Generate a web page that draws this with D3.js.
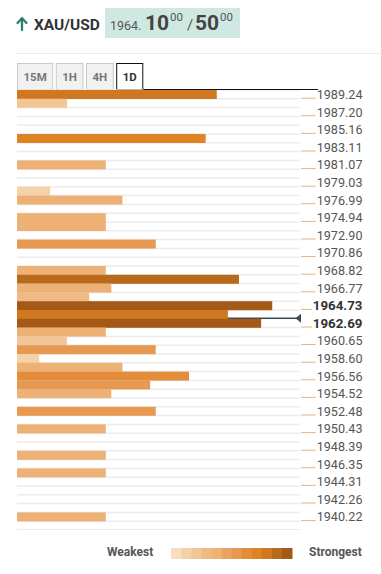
<!DOCTYPE html>
<html>
<head>
<meta charset="utf-8">
<script src="https://cdn.jsdelivr.net/npm/d3@7/dist/d3.min.js"></script>
<style>
  html, body { margin: 0; padding: 0; background: #fff; }
  svg { display: block; font-family: Roboto, "Noto Sans", sans-serif; }
</style>
</head>
<body>
<svg id="chart" width="381" height="574"></svg>
<script>
// ---------------- DATA ----------------
const symbol = "XAU/USD";
const priceBig = "1964.";
const bidMain = "10", bidSup = "00";
const askMain = "50", askSup = "00";
const tabs = ["15M", "1H", "4H", "1D"];
const activeTab = "1D";

const tickLabels = ["1989.24","1987.20","1985.16","1983.11","1981.07","1979.03","1976.99","1974.94",
  "1972.90","1970.86","1968.82","1966.77","1964.73","1962.69","1960.65","1958.60","1956.56",
  "1954.52","1952.48","1950.43","1948.39","1946.35","1944.31","1942.26","1940.22"];
const keyLevels = ["1964.73", "1962.69"];
const currentPrice = 1963.26;

const rowCount = 49;
const barRows     = [0, 1, 5, 8, 11, 12, 14, 15, 17, 20, 21, 22, 23, 24, 25, 26, 27, 28, 29, 30, 31, 32, 33, 34, 36, 38, 41, 43, 48];
const barStrength = [18, 4.5, 17, 8, 3, 9.5, 8, 8, 12.5, 8, 20, 8.5, 6.5, 23, 19, 22, 8, 4.5, 12.5, 2, 9.5, 15.5, 12, 8.5, 12.5, 8, 8, 8, 8];

const legendColors = ["#f8ddc0","#f5d1aa","#f2c597","#efba84","#edb075","#eaa462",
  "#e79952","#e38d3c","#df8424","#cf7820","#b8691b","#a45a16"];
const legendLabels = ["Weakest", "Strongest"];

// ---------------- DRAW ----------------
const svg = d3.select("#chart");

// header
svg.append("line").attr("x1", 17).attr("x2", 381).attr("y1", 53.5).attr("y2", 53.5)
  .attr("stroke", "#ebebeb").attr("stroke-width", 1);

const arrowG = svg.append("g").attr("stroke", "#2e7d6a").attr("stroke-width", 2.3)
  .attr("fill", "none").attr("stroke-linecap", "round").attr("stroke-linejoin", "round");
arrowG.append("line").attr("x1", 22).attr("x2", 22).attr("y1", 30).attr("y2", 18.5);
arrowG.append("polyline").attr("points", "17.5,23 22,18.3 26.5,23");

svg.append("text").attr("x", 34).attr("y", 29.5).attr("font-size", 15.5).attr("font-weight", 700)
  .attr("fill", "#333").text(symbol);

svg.append("rect").attr("x", 105).attr("y", 8).attr("width", 135).attr("height", 30)
  .attr("fill", "#cfe9e2");
svg.append("text").attr("x", 110).attr("y", 30).attr("font-size", 12.5).attr("fill", "#555").text(priceBig);
svg.append("text").attr("x", 145).attr("y", 30).attr("font-size", 21).attr("font-weight", 700).attr("fill", "#444").text(bidMain);
svg.append("text").attr("x", 170).attr("y", 20.5).attr("font-size", 11.5).attr("fill", "#555").text(bidSup);
svg.append("text").attr("x", 187).attr("y", 30).attr("font-size", 15).attr("fill", "#555").text("/");
svg.append("text").attr("x", 195).attr("y", 30).attr("font-size", 21).attr("font-weight", 700).attr("fill", "#444").text(askMain);
svg.append("text").attr("x", 220).attr("y", 20.5).attr("font-size", 11.5).attr("fill", "#555").text(askSup);

// tabs
const tabTop = 63, tabBottom = 89;
let tx = 17;
let activeRight = 146;
tabs.forEach(t => {
  const g = svg.append("g");
  const txt = g.append("text").attr("y", 81).attr("font-size", 11.5).attr("font-weight", 700)
    .attr("text-anchor", "middle").attr("fill", t === activeTab ? "#333" : "#777").text(t);
  const w = txt.node().getComputedTextLength() + 13;
  const isActive = t === activeTab;
  g.insert("rect", "text").attr("x", tx + 0.5).attr("y", tabTop + 0.5).attr("width", w - 1)
    .attr("height", tabBottom - tabTop).attr("fill", isActive ? "#fff" : "#f1f1f1")
    .attr("stroke", isActive ? "#111" : "#c9c9c9").attr("stroke-width", 1);
  txt.attr("x", tx + w / 2);
  if (isActive) activeRight = tx + w;
  tx += w + 2.5;
});

// scales
const x = d3.scaleLinear().domain([0, 25.5]).range([17, 300]);
const yBand = d3.scaleBand().domain(d3.range(rowCount)).range([90, 521.2]).padding(0);
const yPrice = d3.scaleLinear()
  .domain([+tickLabels[0], +tickLabels[tickLabels.length - 1]])
  .range([yBand(0) + yBand.bandwidth() / 2, yBand(rowCount - 1) + yBand.bandwidth() / 2]);
const color = d3.scaleQuantize().domain([0, 24]).range(legendColors);

// row grid lines
svg.append("g").selectAll("line").data(d3.range(rowCount + 1)).join("line")
  .attr("x1", 17).attr("x2", 300)
  .attr("y1", i => i < rowCount ? yBand(i) : yBand(rowCount - 1) + yBand.bandwidth())
  .attr("y2", i => i < rowCount ? yBand(i) : yBand(rowCount - 1) + yBand.bandwidth())
  .attr("stroke", "#ececec").attr("stroke-width", 1.5);

// top black line after active tab
svg.append("line").attr("x1", activeRight).attr("x2", 318).attr("y1", 89.5).attr("y2", 89.5)
  .attr("stroke", "#111").attr("stroke-width", 1);

// current price line (below bars)
const cy = yPrice(currentPrice);
svg.append("line").attr("x1", 17).attr("x2", 297).attr("y1", cy).attr("y2", cy)
  .attr("stroke", "#3b4b5a").attr("stroke-width", 1.4);
svg.append("path").attr("d", `M295.5,${cy} L301,${cy - 4.5} L301,${cy + 4.5} Z`).attr("fill", "#3b4b5a");

// bars
const bars = barRows.map((r, i) => ({ row: r, v: barStrength[i] }));
svg.append("g").selectAll("rect").data(bars).join("rect")
  .attr("x", x(0)).attr("y", d => yBand(d.row))
  .attr("width", d => x(d.v) - x(0)).attr("height", yBand.bandwidth() + 0.2)
  .attr("fill", d => color(d.v));

// right labels
const lg = svg.append("g");
tickLabels.forEach(lbl => {
  const yy = yPrice(+lbl);
  const bold = keyLevels.includes(lbl);
  const t = lg.append("text").attr("x", 362.5).attr("y", yy + 4.6).attr("text-anchor", "end")
    .attr("font-size", bold ? 13.3 : 12.6).attr("font-weight", bold ? 700 : 400)
    .attr("fill", bold ? "#333" : "#555").text(lbl);
  const len = t.node().getComputedTextLength();
  lg.append("line").attr("x1", 301).attr("x2", 362.5 - len - 1)
    .attr("y1", yy + 3.8).attr("y2", yy + 3.8).attr("stroke", "#e2b57e").attr("stroke-width", 1);
});

// bottom separator
svg.append("line").attr("x1", 17).attr("x2", 300).attr("y1", 529.5).attr("y2", 529.5)
  .attr("stroke", "#ececec").attr("stroke-width", 1);

// legend
svg.append("text").attr("x", 107).attr("y", 556).attr("font-size", 12).attr("font-weight", 700)
  .attr("fill", "#555").text(legendLabels[0]);
svg.append("text").attr("x", 309).attr("y", 556).attr("font-size", 12).attr("font-weight", 700)
  .attr("fill", "#555").text(legendLabels[1]);
const lx = d3.scaleBand().domain(d3.range(legendColors.length)).range([171, 292]);
svg.append("g").selectAll("rect").data(legendColors).join("rect")
  .attr("x", (d, i) => lx(i)).attr("y", 548).attr("width", lx.bandwidth() + 0.5).attr("height", 11)
  .attr("fill", d => d);
</script>
</body>
</html>
